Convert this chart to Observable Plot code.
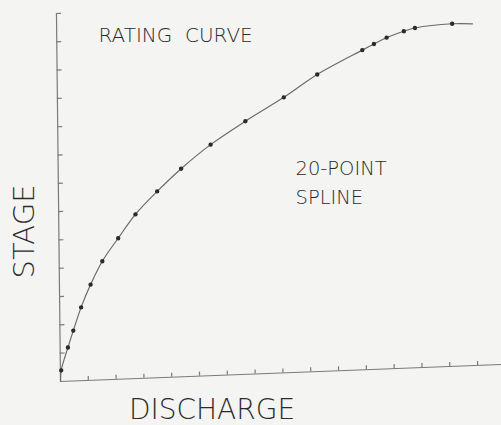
<!DOCTYPE html>
<html>
<head>
<meta charset="utf-8">
<script src="https://cdn.jsdelivr.net/npm/d3@7"></script>
<script src="https://cdn.jsdelivr.net/npm/@observablehq/plot@0.6"></script>
<style>
  html, body { margin: 0; padding: 0; background: #f4f4f2; }
  #chart { width: 501px; height: 425px; overflow: hidden; }
</style>
</head>
<body>
<div id="chart"></div>
<script>
// 20 spline knots (discharge, stage) in axis-tick units
const discharge = [0.03, 0.28, 0.48, 0.77, 1.12, 1.55, 2.13, 2.76, 3.55, 4.42, 5.49, 6.75, 8.14, 9.35, 10.98, 11.40, 11.86, 12.48, 12.88, 14.22];
const stage     = [0.39, 1.19, 1.78, 2.59, 3.38, 4.19, 4.98, 5.80, 6.58, 7.35, 8.16, 8.94, 9.73, 10.49, 11.29, 11.49, 11.70, 11.90, 12.00, 12.10];
// curve runs from the origin to just past the last knot
const curveStartQ = 0, curveStartS = 0;
const curveEndQ = 14.95, curveEndS = 12.07;
// tick positions
const xTicks = [1,2,3,4,5,6,7,8,9,10,11,12,13,14,15];
const yTicks = [1,2,3,4,5,6,7,8,9,10,11,12,13];
const xMax = 15.86, yMax = 13;
// texts
const titleText = ["RATING  CURVE"];
const noteText = ["20-POINT\nSPLINE"];
const xLabel = ["DISCHARGE"];
const yLabel = ["STAGE"];

const points = discharge.map((q, i) => ({q, s: stage[i]}));
const curve = [{q: curveStartQ, s: curveStartS}, ...points, {q: curveEndQ, s: curveEndS}];

const W = 501, H = 425, mL = 60, mR = 0, mT = 13, mB = 44;
const innerW = W - mL - mR, innerH = H - mT - mB;
const ink = "#2b2b2b", lineInk = "#6a6a6a", axisInk = "#7a7a7a";
const font = "'DejaVu Sans', sans-serif";

const plot = Plot.plot({
  width: W, height: H,
  marginLeft: mL, marginRight: mR, marginTop: mT, marginBottom: mB,
  style: {background: "#f4f4f2", overflow: "visible"},
  x: {domain: [0, xMax], axis: null},
  y: {domain: [0, yMax], axis: null},
  marks: [
    Plot.ruleY([0], {stroke: axisInk, strokeWidth: 1.2}),
    Plot.ruleX([0], {stroke: axisInk, strokeWidth: 1.2}),
    Plot.tickX(xTicks, {x: d => d, insetTop: innerH - 4, stroke: axisInk, strokeWidth: 1.2}),
    Plot.tickY(yTicks, {y: d => d, insetRight: innerW - 5, stroke: axisInk, strokeWidth: 1.2}),
    Plot.line(curve, {x: "q", y: "s", curve: "catmull-rom", stroke: lineInk, strokeWidth: 1.2}),
    Plot.dot(points, {x: "q", y: "s", r: 2.2, fill: ink, stroke: null}),
    Plot.text(titleText, {frameAnchor: "top-left", dx: 38, dy: 22, textAnchor: "start", lineAnchor: "middle", fontSize: 20, fill: ink, fontFamily: font, fontWeight: 200, style: "white-space: pre"}),
    Plot.text(noteText, {frameAnchor: "top-left", dx: 235, dy: 167, textAnchor: "start", lineAnchor: "middle", lineHeight: 1.47, fontSize: 19.5, fill: ink, fontFamily: font, fontWeight: 200}),
    Plot.text(xLabel, {frameAnchor: "bottom-left", dx: 151.5, dy: 29, textAnchor: "middle", lineAnchor: "middle", fontSize: 28, fill: ink, fontFamily: font, fontWeight: 200}),
    Plot.text(yLabel, {frameAnchor: "bottom-left", dx: -35.5, dy: -150, rotate: -90, textAnchor: "middle", lineAnchor: "middle", fontSize: 29, fill: ink, fontFamily: font, fontWeight: 200})
  ]
});

// The scanned original is slightly skewed: shear the graphic marks (not the text) about the origin.
const svg = plot;
const wrap = document.createElementNS("http://www.w3.org/2000/svg", "g");
const ox = mL, oy = H - mB;
const a = 1, b = -0.0385, c = 0.011, d = 1;
const e = ox - (a * ox + c * oy), f = oy - (b * ox + d * oy);
wrap.setAttribute("transform", `matrix(${a},${b},${c},${d},${e.toFixed(3)},${f.toFixed(3)})`);
const toWrap = Array.from(svg.querySelectorAll(":scope > g[aria-label]")).filter(g => g.getAttribute("aria-label") !== "text");
if (toWrap.length) {
  svg.insertBefore(wrap, toWrap[0]);
  toWrap.forEach(g => wrap.appendChild(g));
}
svg.querySelectorAll("text").forEach(t => t.setAttribute("xml:space", "preserve"));
document.getElementById("chart").appendChild(plot);
</script>
</body>
</html>
